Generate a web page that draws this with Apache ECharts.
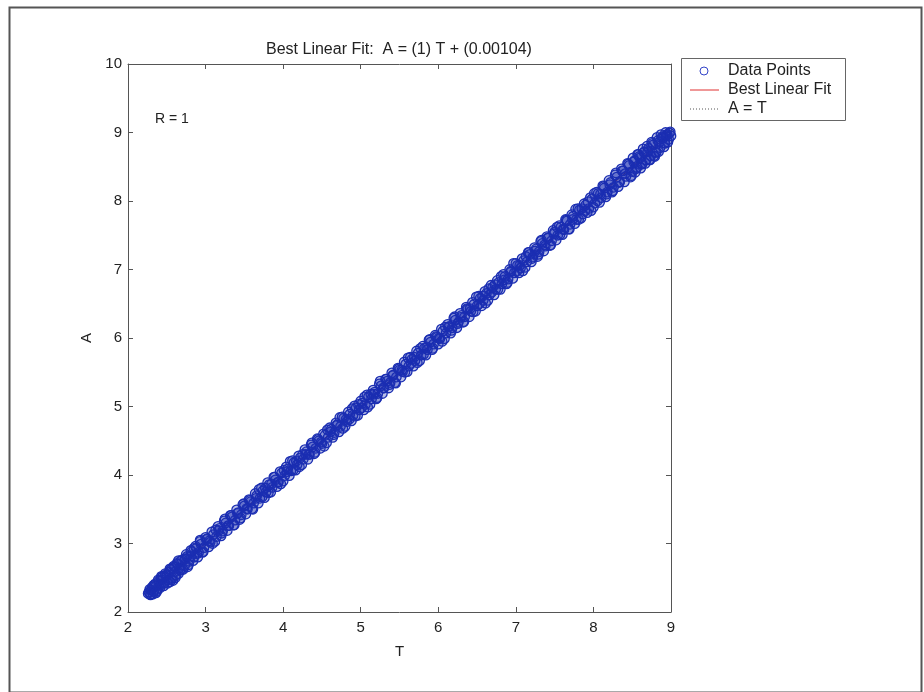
<!DOCTYPE html>
<html>
<head>
<meta charset="utf-8">
<script src="https://cdn.jsdelivr.net/npm/echarts@6/dist/echarts.min.js"></script>
<style>
html,body{margin:0;padding:0;background:#fff;}
#chart{width:924px;height:692px;}
</style>
</head>
<body>
<div id="chart"></div>
<script>
// ---- data ----
var titleText = 'Best Linear Fit:  A = (1) T + (0.00104)';
var xTicks = [2, 3, 4, 5, 6, 7, 8, 9];
var yTicks = [2, 3, 4, 5, 6, 7, 8, 9, 10];
var legendNames = ['Data Points', 'Best Linear Fit', 'A = T'];
var tValues = [
2.27,2.29,2.31,2.33,2.35,2.38,2.40,2.42,2.45,2.47,2.50,2.52,2.55,2.57,2.60,2.62,2.64,2.67,2.70,2.73,
2.76,2.79,2.82,2.85,2.88,2.91,2.94,2.98,3.02,3.06,3.10,3.14,3.18,3.22,3.26,3.30,3.34,3.38,3.42,3.46,
3.50,3.54,3.58,3.62,3.66,3.70,3.74,3.78,3.82,3.86,3.90,3.94,3.98,4.02,4.06,4.10,4.14,4.18,4.22,4.26,
4.30,4.34,4.38,4.42,4.46,4.50,4.54,4.58,4.62,4.66,4.70,4.74,4.78,4.82,4.86,4.90,4.94,4.98,5.02,5.06,
5.10,5.14,5.18,5.22,5.26,5.30,5.34,5.38,5.42,5.46,5.50,5.54,5.58,5.62,5.66,5.70,5.74,5.78,5.82,5.86,
5.90,5.94,5.98,6.02,6.06,6.10,6.14,6.18,6.22,6.26,6.30,6.34,6.38,6.42,6.46,6.50,6.54,6.58,6.62,6.66,
6.70,6.74,6.78,6.82,6.86,6.90,6.94,6.98,7.02,7.06,7.10,7.14,7.18,7.22,7.26,7.30,7.34,7.38,7.42,7.46,
7.50,7.54,7.58,7.62,7.66,7.70,7.74,7.78,7.82,7.86,7.90,7.94,7.98,8.02,8.06,8.10,8.14,8.18,8.22,8.26,
8.30,8.34,8.38,8.42,8.46,8.50,8.53,8.56,8.59,8.62,8.65,8.68,8.71,8.74,8.77,8.80,8.83,8.86,8.89,8.92,
8.95,8.97,8.99,
2.30,2.36,2.44,2.53,2.58,2.66,2.74,8.60,8.70,8.78,8.85,8.90,8.94
];
var aValues = [
2.29,2.25,2.36,2.30,2.41,2.33,2.45,2.39,2.52,2.43,2.55,2.47,2.62,2.50,2.66,2.54,2.70,2.61,2.76,2.68,
2.81,2.74,2.88,2.80,2.93,2.87,2.99,2.94,3.07,3.02,3.13,3.10,3.22,3.18,3.30,3.26,3.39,3.34,3.45,3.42,
3.55,3.50,3.61,3.59,3.70,3.66,3.77,3.75,3.86,3.82,3.93,3.90,4.03,3.99,4.09,4.06,4.18,4.15,4.25,4.23,
4.34,4.30,4.41,4.39,4.50,4.46,4.58,4.55,4.67,4.62,4.73,4.71,4.83,4.78,4.89,4.87,4.98,4.95,5.05,5.03,
5.14,5.11,5.21,5.19,5.30,5.27,5.37,5.35,5.46,5.43,5.53,5.51,5.62,5.59,5.69,5.67,5.78,5.75,5.85,5.83,
5.94,5.91,6.01,5.99,6.10,6.07,6.17,6.15,6.26,6.23,6.33,6.31,6.42,6.39,6.49,6.47,6.58,6.55,6.65,6.63,
6.74,6.71,6.81,6.79,6.90,6.86,6.98,6.95,7.06,7.02,7.13,7.11,7.22,7.18,7.30,7.26,7.38,7.34,7.46,7.42,
7.55,7.50,7.62,7.58,7.71,7.66,7.78,7.73,7.87,7.81,7.94,7.89,8.03,7.97,8.11,8.05,8.19,8.13,8.27,8.20,
8.35,8.28,8.44,8.36,8.52,8.43,8.59,8.49,8.65,8.54,8.71,8.60,8.77,8.66,8.82,8.71,8.88,8.78,8.94,8.84,
8.97,8.90,9.01,
2.32,2.38,2.47,2.58,2.46,2.64,2.78,8.63,8.72,8.66,8.86,8.92,8.95
];
var tValues2 = [
2.28,2.32,2.34,2.37,2.39,2.41,2.43,2.46,2.48,2.51,
2.54,2.56,2.59,2.61,2.63,2.65,2.68,2.71,2.75,2.78,
2.81,2.84,2.87,2.90,2.93,2.96,3.00,3.04,3.08,3.12,
3.16,3.20,3.24,3.28,3.32,3.36,3.40,3.44,3.48,3.52,
3.56,3.60,3.64,3.68,3.72,3.76,3.80,3.84,3.88,3.92,
3.96,4.00,4.04,4.08,4.12,4.16,4.20,4.24,4.28,4.32,
4.36,4.40,4.44,4.48,4.52,4.56,4.60,4.64,4.68,4.72,
4.76,4.80,4.84,4.88,4.92,4.96,5.00,5.04,5.08,5.12,
5.16,5.20,5.24,5.28,5.32,5.36,5.40,5.44,5.48,5.52,
5.56,5.60,5.64,5.68,5.72,5.76,5.80,5.84,5.88,5.92,
5.96,6.00,6.04,6.08,6.12,6.16,6.20,6.24,6.28,6.32,
6.36,6.40,6.44,6.48,6.52,6.56,6.60,6.64,6.68,6.72,
6.76,6.80,6.84,6.88,6.92,6.96,7.00,7.04,7.08,7.12,
7.16,7.20,7.24,7.28,7.32,7.36,7.40,7.44,7.48,7.52,
7.56,7.60,7.64,7.68,7.72,7.76,7.80,7.84,7.88,7.92,
7.96,8.00,8.04,8.08,8.12,8.16,8.20,8.24,8.28,8.32,
8.36,8.40,8.44,8.48,8.51,8.54,8.57,8.61,8.64,8.67,
8.69,8.72,8.75,8.79,8.82,8.84,8.87,8.91,8.93,8.96,
8.98
];
var aValues2 = [
2.33,2.26,2.39,2.30,2.47,2.35,2.50,2.38,2.56,2.42,
2.63,2.47,2.67,2.50,2.71,2.56,2.75,2.62,2.84,2.69,
2.90,2.75,2.96,2.80,3.03,2.87,3.09,2.95,3.17,3.03,
3.25,3.11,3.33,3.19,3.41,3.27,3.49,3.35,3.57,3.43,
3.64,3.51,3.73,3.59,3.81,3.67,3.89,3.75,3.97,3.83,
4.05,3.91,4.12,3.99,4.21,4.07,4.28,4.15,4.37,4.23,
4.44,4.31,4.53,4.39,4.60,4.47,4.69,4.55,4.76,4.63,
4.85,4.71,4.92,4.79,5.01,4.87,5.08,4.95,5.17,5.03,
5.24,5.11,5.33,5.19,5.40,5.27,5.49,5.35,5.56,5.43,
5.65,5.51,5.72,5.59,5.81,5.67,5.88,5.75,5.97,5.83,
6.04,5.91,6.13,5.99,6.20,6.07,6.29,6.15,6.36,6.23,
6.45,6.31,6.52,6.39,6.61,6.47,6.68,6.55,6.77,6.63,
6.84,6.71,6.93,6.79,7.00,6.87,7.09,6.95,7.16,7.03,
7.25,7.11,7.32,7.19,7.41,7.27,7.48,7.35,7.57,7.43,
7.64,7.51,7.73,7.59,7.80,7.67,7.89,7.75,7.96,7.83,
8.05,7.91,8.13,7.98,8.22,8.06,8.30,8.13,8.38,8.21,
8.47,8.28,8.55,8.35,8.63,8.42,8.68,8.48,8.76,8.55,
8.80,8.60,8.86,8.65,8.93,8.72,8.97,8.79,9.00,8.86,
8.99
];
var tValues3 = [
2.26,2.29,2.33,2.36,2.40,2.43,2.47,2.50,2.54,2.57,
2.61,2.65,2.69,2.73,2.77,2.81,2.85,2.89,2.93,2.97,
3.01,3.05,3.09,3.13,3.17,3.21,3.25,3.29,3.33,3.37,
3.41,3.45,3.49,3.53,3.57,3.61,3.65,3.69,3.73,3.77,
3.81,3.85,3.89,3.93,3.97,4.01,4.05,4.09,4.13,4.17,
4.21,4.25,4.29,4.33,4.37,4.41,4.45,4.49,4.53,4.57,
4.61,4.65,4.69,4.73,4.77,4.81,4.85,4.89,4.93,4.97,
5.01,5.05,5.09,5.13,5.17,5.21,5.25,5.29,5.33,5.37,
5.41,5.45,5.49,5.53,5.57,5.61,5.65,5.69,5.73,5.77,
5.81,5.85,5.89,5.93,5.97,6.01,6.05,6.09,6.13,6.17,
6.21,6.25,6.29,6.33,6.37,6.41,6.45,6.49,6.53,6.57,
6.61,6.65,6.69,6.73,6.77,6.81,6.85,6.89,6.93,6.97,
7.01,7.05,7.09,7.13,7.17,7.21,7.25,7.29,7.33,7.37,
7.41,7.45,7.49,7.53,7.57,7.61,7.65,7.69,7.73,7.77,
7.81,7.85,7.89,7.93,7.97,8.01,8.05,8.09,8.13,8.17,
8.21,8.25,8.29,8.33,8.37,8.41,8.45,8.49,8.52,8.55,
8.58,8.63,8.66,8.73,8.76,8.81,8.88,8.92,8.95,9.00
];
var aValues3 = [
2.27,2.26,2.39,2.28,2.40,2.52,2.42,2.53,2.44,2.64,
2.59,2.75,2.62,2.77,2.66,2.82,2.93,2.85,3.05,2.88,
3.06,3.04,3.00,3.20,3.19,3.15,3.36,3.26,3.41,3.27,
3.44,3.37,3.58,3.51,3.63,3.50,3.66,3.79,3.68,3.81,
3.74,3.87,3.97,3.89,3.87,4.07,4.05,4.20,4.07,4.20,
4.12,4.30,4.30,4.30,4.47,4.33,4.52,4.48,4.42,4.66,
4.63,4.59,4.73,4.84,4.68,4.81,4.81,4.97,4.86,5.03,
4.98,5.14,4.99,5.18,5.18,5.13,5.37,5.27,5.40,5.32,
5.45,5.34,5.55,5.53,5.50,5.71,5.63,5.72,5.64,5.85,
5.76,5.87,5.98,5.85,6.02,6.00,5.95,6.16,6.16,6.11,
6.31,6.21,6.30,6.24,6.43,6.43,6.38,6.60,6.50,6.61,
6.51,6.72,6.67,6.78,6.71,6.90,6.85,6.81,6.96,7.09,
6.97,7.06,6.98,7.19,7.25,7.16,7.27,7.22,7.43,7.36,
7.46,7.36,7.52,7.62,7.51,7.59,7.72,7.59,7.73,7.88,
7.73,7.89,7.86,7.99,7.86,8.11,8.00,8.10,8.21,8.10,
8.24,8.15,8.41,8.27,8.44,8.40,8.54,8.37,8.57,8.47,
8.68,8.54,8.72,8.60,8.84,8.71,8.92,8.85,8.97,8.95
];
var fitT = [2.27, 9.0];
var fitA = [2.27104, 9.00104];
var idT = [2.27, 9.0];
var idA = [2.27, 9.0];
var rLabel = 'R = 1';

// ---- build ----
function zip(a, b) { var o = []; for (var i = 0; i < a.length; i++) o.push([a[i], b[i]]); return o; }

var FONT = 'Liberation Sans, Arial, Helvetica, sans-serif';
var axisCol = '#555';
var dotBlue = '#1b2eb2';
var chart = echarts.init(document.getElementById('chart'));

var xBase = {
  type: 'value', min: xTicks[0], max: xTicks[xTicks.length - 1], interval: 1,
  splitLine: { show: false },
  axisLine: { show: true, onZero: false, lineStyle: { color: axisCol, width: 1 } },
  axisTick: { show: true, inside: true, length: 5, lineStyle: { color: axisCol } }
};
var yBase = {
  type: 'value', min: yTicks[0], max: yTicks[yTicks.length - 1], interval: 1,
  splitLine: { show: false },
  axisLine: { show: true, onZero: false, lineStyle: { color: axisCol, width: 1 } },
  axisTick: { show: true, inside: true, length: 5, lineStyle: { color: axisCol } }
};

var txt = { fontFamily: FONT, fontSize: 16, fill: '#222', verticalAlign: 'middle' };

chart.setOption({
  animation: false,
  backgroundColor: '#fff',
  textStyle: { fontFamily: FONT },
  title: {
    text: titleText, left: 394, top: 37, textAlign: 'center',
    textStyle: { fontFamily: FONT, fontSize: 16, fontWeight: 'normal', color: '#222' }
  },
  grid: { left: 128, right: 253, top: 64, bottom: 80, containLabel: false },
  xAxis: [
    Object.assign({}, xBase, {
      position: 'bottom', name: 'T', nameLocation: 'middle', nameGap: 32,
      nameTextStyle: { fontFamily: FONT, fontSize: 15, color: '#222' },
      axisLabel: { show: true, margin: 8, fontFamily: FONT, fontSize: 15, color: '#222' }
    }),
    Object.assign({}, xBase, { position: 'top', axisLabel: { show: false } })
  ],
  yAxis: [
    Object.assign({}, yBase, {
      position: 'left', name: 'A', nameLocation: 'middle', nameGap: 33,
      nameTextStyle: { fontFamily: FONT, fontSize: 15, color: '#222' },
      axisLabel: { show: true, margin: 6, fontFamily: FONT, fontSize: 15, color: '#222' }
    }),
    Object.assign({}, yBase, { position: 'right', axisLabel: { show: false } })
  ],
  legend: { show: false },
  graphic: [
    { type: 'rect', left: 7, top: 5, shape: { width: 912, height: 685 }, style: { fill: 'none', stroke: '#555', lineWidth: 2 }, silent: true, z: -10 },
    { type: 'text', left: 155, top: 112, style: { text: rLabel, fontFamily: FONT, fontSize: 14, fill: '#222' } },
    { type: 'rect', shape: { x: 681.5, y: 58.5, width: 164, height: 62 }, style: { fill: '#fff', stroke: '#666', lineWidth: 1 }, z: 10 },
    { type: 'circle', shape: { cx: 704, cy: 71, r: 4 }, style: { fill: 'none', stroke: '#3344c8', lineWidth: 1 }, z: 11 },
    { type: 'line', shape: { x1: 690, y1: 90, x2: 719, y2: 90 }, style: { stroke: '#e03030', lineWidth: 1 }, z: 11 },
    { type: 'line', shape: { x1: 690, y1: 109, x2: 719, y2: 109 }, style: { stroke: '#555', lineWidth: 1, lineDash: [1, 2] }, z: 11 },
    { type: 'text', x: 728, y: 71, style: Object.assign({ text: legendNames[0] }, txt), z: 11 },
    { type: 'text', x: 728, y: 90, style: Object.assign({ text: legendNames[1] }, txt), z: 11 },
    { type: 'text', x: 728, y: 109, style: Object.assign({ text: legendNames[2] }, txt), z: 11 }
  ],
  series: [
    {
      name: legendNames[0], type: 'scatter', xAxisIndex: 0, yAxisIndex: 0,
      data: zip(tValues, aValues).concat(zip(tValues2, aValues2)).concat(zip(tValues3, aValues3)),
      symbol: 'circle', symbolSize: 9.5,
      itemStyle: { color: 'rgba(27,46,178,0.3)', borderColor: dotBlue, borderWidth: 1.3, opacity: 1 },
      z: 3
    },
    {
      name: legendNames[1], type: 'line', xAxisIndex: 0, yAxisIndex: 0,
      data: zip(fitT, fitA), showSymbol: false, symbol: 'none',
      lineStyle: { color: '#e03030', width: 1 }, z: 2
    },
    {
      name: legendNames[2], type: 'line', xAxisIndex: 0, yAxisIndex: 0,
      data: zip(idT, idA), showSymbol: false, symbol: 'none',
      lineStyle: { color: '#333', width: 1, type: 'dotted' }, z: 2
    }
  ]
});
</script>
</body>
</html>
